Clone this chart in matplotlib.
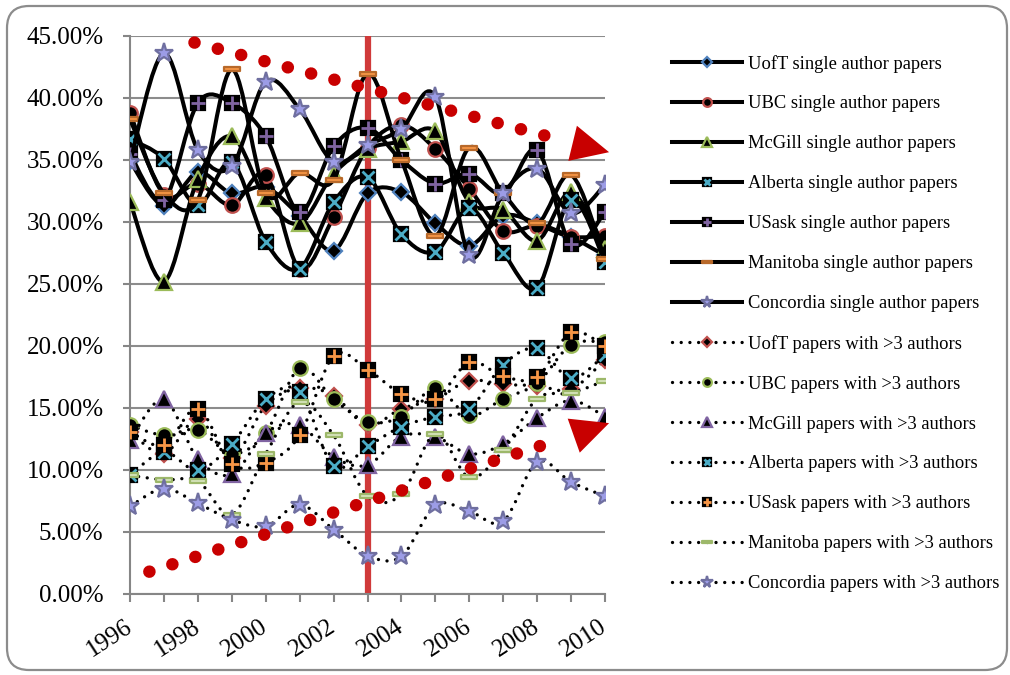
import numpy as np
import matplotlib.pyplot as plt
from matplotlib.path import Path
from matplotlib.patches import PathPatch, FancyBboxPatch
from matplotlib.lines import Line2D

plt.rcParams['font.family'] = ['Liberation Serif', 'DejaVu Serif']

years = list(range(1996, 2011))

# share of papers (%) with a single author
uoft_single = [34.9, 31.3, 34.0, 32.3, 32.8, 30.5, 27.7, 32.3, 32.4, 29.9, 28.1, 30.5, 29.9, 28.8, 27.3]
ubc_single = [38.8, 32.2, 33.1, 31.35, 33.8, 26.25, 30.4, 36.0, 37.8, 35.9, 32.7, 29.3, 29.7, 28.8, 28.9]
mcgill_single = [31.6, 25.2, 33.5, 36.9, 31.9, 29.9, 33.9, 35.9, 36.5, 37.3, 31.6, 31.0, 28.5, 32.4, 27.8]
alberta_single = [36.7, 35.1, 31.35, 34.8, 28.4, 26.25, 31.6, 33.6, 29.0, 27.6, 31.1, 27.5, 24.7, 31.8, 26.8]
usask_single = [35.5, 31.8, 39.6, 39.6, 36.9, 30.8, 36.1, 37.6, 35.0, 33.1, 33.9, 32.3, 35.8, 28.2, 30.8]
manitoba_single = [38.3, 32.3, 31.8, 42.3, 32.3, 33.96, 33.4, 41.97, 35.0, 28.9, 36.0, 32.3, 29.9, 33.8, 27.0]
concordia_single = [34.85, 43.6, 35.8, 34.5, 41.3, 39.1, 34.85, 36.2, 37.5, 40.1, 27.3, 32.3, 34.3, 30.7, 33.0]

# share of papers (%) with more than 3 authors
uoft_multi = [13.1, 11.3, 14.1, 11.0, 15.2, 16.6, 16.0, 13.6, 14.95, 15.7, 17.2, 16.9, 16.8, 16.5, 18.9]
ubc_multi = [13.6, 12.8, 13.25, 11.3, 13.0, 18.2, 15.7, 13.9, 14.3, 16.6, 14.4, 15.75, 17.0, 20.1, 20.3]
mcgill_multi = [12.4, 15.7, 10.9, 9.65, 13.0, 13.6, 11.05, 10.4, 12.7, 12.7, 11.3, 12.1, 14.2, 15.6, 14.3]
alberta_multi = [9.57, 11.45, 9.97, 12.1, 15.7, 16.3, 10.3, 11.9, 13.5, 14.3, 14.9, 18.5, 19.8, 17.4, 19.3]
usask_multi = [13.1, 12.0, 14.95, 10.5, 10.6, 12.8, 19.2, 18.1, 16.15, 15.7, 18.7, 17.55, 17.5, 21.1, 19.97]
manitoba_multi = [9.57, 9.2, 9.1, 6.4, 11.3, 15.5, 12.8, 7.9, 8.04, 12.9, 9.4, 11.6, 15.75, 16.2, 17.2]
concordia_multi = [7.07, 8.5, 7.3, 6.0, 5.45, 7.2, 5.2, 3.1, 3.04, 7.15, 6.67, 5.86, 10.65, 9.03, 7.88]

single_labels = ['UofT single author papers', 'UBC single author papers', 'McGill single author papers',
                 'Alberta single author papers', 'USask single author papers',
                 'Manitoba single author papers', 'Concordia single author papers']
multi_labels = ['UofT papers with >3 authors', 'UBC papers with >3 authors', 'McGill papers with >3 authors',
                'Alberta papers with >3 authors', 'USask papers with >3 authors',
                'Manitoba papers with >3 authors', 'Concordia papers with >3 authors']

# hand drawn trend arrows and the 2003 marker line
split_year = 2003
down_arrow = [(1997.9, 44.47), (2008.86, 36.51), (2009.1, 36.31), (2010.12, 35.63)]
up_arrow = [(1996.57, 1.8), (2008.73, 12.5), (2009.13, 12.82), (2010.12, 13.78)]

dash = Path([(-1, -0.28), (1, -0.28), (1, 0.28), (-1, 0.28), (-1, -0.28)],
            [Path.MOVETO, Path.LINETO, Path.LINETO, Path.LINETO, Path.CLOSEPOLY])

single_styles = [
    dict(marker='D', ms=8.5, mfc='black', mec='#4F81BD'),
    dict(marker='o', ms=10.5, mfc='black', mec='#C0504D'),
    dict(marker='^', ms=11, mfc='black', mec='#9BBB59'),
    dict(marker='s', ms=9.5, mfc='black', mec='black', over=dict(marker='x', ms=8, mec='#4BACC6')),
    dict(marker='s', ms=9.5, mfc='black', mec='black', over=dict(marker='+', ms=9.5, mec='#8064A2')),
    dict(marker=dash, ms=11, mfc='#F79646', mec='#B8692A'),
    dict(marker='*', ms=14, mfc='#9C9CE6', mec='#6F6FA0'),
]
multi_styles = [
    dict(marker='D', ms=8.5, mfc='black', mec='#C0504D'),
    dict(marker='o', ms=10.5, mfc='black', mec='#9BBB59'),
    dict(marker='^', ms=11, mfc='black', mec='#8064A2'),
    dict(marker='s', ms=9.5, mfc='black', mec='black', over=dict(marker='x', ms=8, mec='#4BACC6')),
    dict(marker='s', ms=9.5, mfc='black', mec='black', over=dict(marker='+', ms=9.5, mec='#F79646')),
    dict(marker=dash, ms=11, mfc='#D7E4BD', mec='#9DB86A'),
    dict(marker='*', ms=14, mfc='#9C9CE6', mec='#6F6FA0'),
]

single_data = [uoft_single, ubc_single, mcgill_single, alberta_single, usask_single,
               manitoba_single, concordia_single]
multi_data = [uoft_multi, ubc_multi, mcgill_multi, alberta_multi, usask_multi,
              manitoba_multi, concordia_multi]


def smooth_path(xs, ys):
    # excel-like smoothed line: bezier segments through every point
    pts = np.column_stack([xs, ys]).astype(float)
    n = len(pts)
    verts = [pts[0]]
    codes = [Path.MOVETO]
    for i in range(n - 1):
        p0 = pts[max(i - 1, 0)]
        p1 = pts[i]
        p2 = pts[i + 1]
        p3 = pts[min(i + 2, n - 1)]
        verts += [p1 + (p2 - p0) / 6, p2 - (p3 - p1) / 6, p2]
        codes += [Path.CURVE4] * 3
    return Path(verts, codes)


SOLID = '-'
DOTTED = (0, (0.01, 2.6))

fig = plt.figure(figsize=(10.1, 6.75), dpi=100)
ax = fig.add_axes([130 / 1010, 1 - 594 / 675, 475 / 1010, 558 / 675])

frame = FancyBboxPatch((0.07, 0.05), 10.0, 6.64, boxstyle='round,pad=0,rounding_size=0.22',
                       transform=fig.dpi_scale_trans, fill=False, edgecolor='#8C8C8C', lw=1.6)
fig.patches.append(frame)

ax.axvline(split_year, color='#D03A3A', lw=4.5, zorder=2)

handles = []
z = 3


def draw_series(vals, st, ls, lw):
    global z
    ax.add_patch(PathPatch(smooth_path(years, vals), fill=False, edgecolor='black', lw=lw,
                           linestyle=ls, capstyle='round', joinstyle='round', zorder=z))
    ax.plot(years, vals, ls='none', marker=st['marker'], ms=st['ms'], mfc=st['mfc'],
            mec=st['mec'], mew=1.6, zorder=z + 1)
    main = Line2D([], [], color='black', lw=lw, ls=ls, dash_capstyle='round',
                  marker=st['marker'], ms=st['ms'], mfc=st['mfc'], mec=st['mec'], mew=1.6)
    h = main
    if 'over' in st:
        o = st['over']
        ax.plot(years, vals, ls='none', marker=o['marker'], ms=o['ms'], mec=o['mec'],
                mew=2, zorder=z + 1.5)
        h = (main, Line2D([], [], ls='none', marker=o['marker'], ms=o['ms'], mec=o['mec'], mew=2))
    z += 2
    return h


for vals, st in zip(single_data, single_styles):
    handles.append(draw_series(vals, st, SOLID, 2.9))
for vals, st in zip(multi_data, multi_styles):
    handles.append(draw_series(vals, st, DOTTED, 2.4))

# red trend arrows
for arr in [down_arrow, up_arrow]:
    (x0, y0), (x1, y1), base, tip = arr
    ax.plot([x0, x1], [y0, y1], color='#C80000', lw=9, ls=(0, (0.01, 1.92)),
            dash_capstyle='round', zorder=60, clip_on=False)
    ax.annotate('', xy=tip, xytext=base, annotation_clip=False, zorder=60,
                arrowprops=dict(arrowstyle='-|>,head_length=2.7,head_width=1.3', mutation_scale=10,
                                fc='#C80000', ec='#C80000', lw=0, shrinkA=0, shrinkB=0))

ax.set_xlim(1996, 2010)
ax.set_ylim(0, 45)
ax.set_yticks(np.arange(0, 46, 5))
ax.set_yticklabels(['%.2f%%' % v for v in np.arange(0, 46, 5)], fontsize=18)
ax.set_xticks(years)
ax.set_xticklabels([str(y) if y % 2 == 0 else '' for y in years], fontsize=18,
                   rotation=33, ha='right', va='center', rotation_mode='anchor')
ax.tick_params(axis='y', length=5, width=1.5, color='#868686', pad=14)
ax.tick_params(axis='x', length=6, width=1.5, color='#868686', pad=16)
ax.grid(axis='y', color='#8C8C8C', lw=1.5)
ax.set_axisbelow(True)
for s in ['top', 'right']:
    ax.spines[s].set_visible(False)
for s in ['left', 'bottom']:
    ax.spines[s].set_color('#868686')
    ax.spines[s].set_linewidth(1.5)

fig.legend(handles, single_labels + multi_labels, loc='upper left', bbox_to_anchor=(0.665, 0.919),
           frameon=False, fontsize=13.3, labelspacing=1.24, handlelength=3.8, handletextpad=0.36,
           borderpad=0, borderaxespad=0, markerscale=0.6)

fig.savefig('out.png', dpi=100)
